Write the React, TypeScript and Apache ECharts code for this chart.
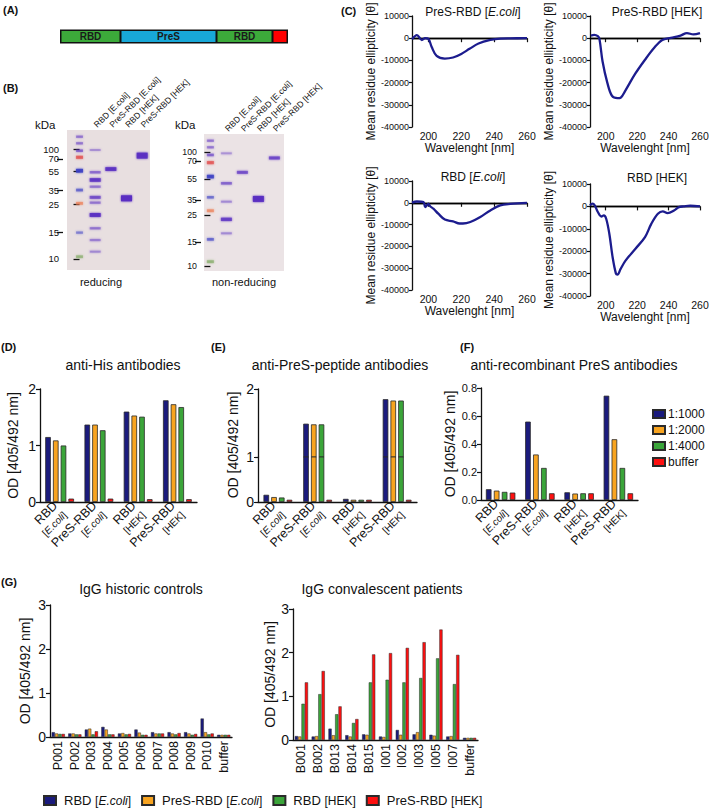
import React, { useEffect, useRef } from 'react';
import * as echarts from 'echarts';

// ---------------- DATA ----------------
// Panel B (SDS-PAGE): lanes, marker positions (migration, % of gel height) and bands [lane, migration, intensity, dye]
const gelLanes = ['', 'RBD [E.coli]', 'PreS-RBD [E.coli]', 'RBD [HEK]', 'PreS-RBD [HEK]'];
const markerKDa = [100, 70, 55, 35, 25, 15, 10];
const reducingMarkerPos = [13.6, 20.7, 29.3, 42.9, 52.9, 72.9, 92.1];
const nonReducingMarkerPos = [13.1, 19.7, 32.8, 48.2, 59.1, 78.8, 96.4];
const reducingBands: [number, number, number, string][] = [
  [0, 4.8, 0.3, 'p'], [0, 9.5, 0.3, 'p'], [0, 14.8, 0.4, 'p'], [0, 19.5, 0.6, 'r'], [0, 29.1, 0.85, 'b'],
  [0, 42.9, 0.45, 'b'], [0, 52.4, 0.5, 'o'], [0, 73.3, 0.3, 'b'], [0, 90.5, 0.45, 'g'],
  [1, 14.3, 0.15, 'p'], [1, 30.2, 0.35, 'p'], [1, 35.7, 0.8, 'p'], [1, 40.5, 0.3, 'p'], [1, 48.1, 0.55, 'p'],
  [1, 51.9, 0.3, 'p'], [1, 60.7, 0.9, 'p'], [1, 70.2, 0.3, 'p'], [1, 78.6, 0.25, 'p'], [1, 86.9, 0.2, 'p'],
  [2, 27.9, 0.85, 'p'],
  [3, 48.8, 1, 'p'],
  [4, 18.3, 0.95, 'p'],
];
const nonReducingBands: [number, number, number, string][] = [
  [0, 4.9, 0.3, 'p'], [0, 9.7, 0.3, 'p'], [0, 15.3, 0.4, 'p'], [0, 20.9, 0.6, 'r'], [0, 31.1, 0.8, 'b'],
  [0, 46.2, 0.4, 'b'], [0, 56.0, 0.5, 'o'], [0, 76.9, 0.45, 'b'], [0, 93.2, 0.5, 'g'],
  [1, 14.1, 0.15, 'p'], [1, 36.0, 0.4, 'p'], [1, 49.4, 0.2, 'p'], [1, 62.3, 0.7, 'p'], [1, 72.5, 0.2, 'p'],
  [2, 28.0, 0.55, 'p'],
  [3, 47.4, 0.95, 'p'],
  [4, 17.5, 0.6, 'p'],
];

// Panel C: CD spectra [wavelength nm, mean residue ellipticity]
const cdPresEcoli: [number, number][] = [[190, -500], [193, 1400], [196, -800], [198, 0], [200, -300], [202, -4000], [205, -8000], [210, -9200], [215, -8700], [220, -7100], [225, -4800], [230.5, -2400], [237.7, -800], [243.7, -150], [250, -50], [260, 0]];
const cdPresHek: [number, number][] = [[190.6, 1200], [192.7, 1500], [195, 900], [196, -300], [198, -10500], [201, -20000], [204, -26000], [207.5, -27000], [209.5, -26800], [212.6, -23500], [218.8, -16000], [225, -9700], [231, -4200], [236, -800], [241.4, 150], [247.6, 1200], [251.7, 2300], [255.8, 1700], [260, 2300]];
const cdRbdEcoli: [number, number][] = [[190, 100], [193, 600], [197, 300], [198, -2000], [199, -1200], [200, -500], [201.2, -1700], [203, -2700], [206, -5000], [210, -7700], [215, -8500], [219, -9500], [221, -9500], [225.5, -8800], [231.6, -6500], [237.7, -3500], [243.7, -1200], [249.8, -500], [260, 0]];
const cdRbdHek: [number, number][] = [[190, 450], [191.6, 1200], [193, 450], [195, -2500], [197.2, -4500], [198.8, -4000], [200.3, -5500], [202.3, -12200], [204.4, -22700], [206.5, -30000], [207.5, -30400], [209.5, -27900], [212.6, -24200], [218.8, -19000], [225, -13700], [229, -7800], [233.2, -3300], [236.3, -2200], [239.4, -3000], [243.5, -1800], [246.6, -300], [249.7, 0], [253.8, 300], [260, 0]];

// Panels D-F
const antigens = ['RBD [E.coli]', 'PreS-RBD [E.coli]', 'RBD [HEK]', 'PreS-RBD [HEK]'];
const dilutions = ['1:1000', '1:2000', '1:4000', 'buffer'];
const his1000 = [1.15, 1.37, 1.60, 1.80];
const his2000 = [1.09, 1.37, 1.53, 1.73];
const his4000 = [1.00, 1.27, 1.51, 1.68];
const hisBuffer = [0.06, 0.06, 0.05, 0.05];
const pep1000 = [0.16, 1.49, 0.07, 1.85];
const pep2000 = [0.11, 1.48, 0.05, 1.83];
const pep4000 = [0.10, 1.48, 0.05, 1.83];
const pepBuffer = [0.05, 0.05, 0.05, 0.05];
const rec1000 = [0.077, 0.56, 0.055, 0.745];
const rec2000 = [0.067, 0.325, 0.046, 0.434];
const rec4000 = [0.058, 0.229, 0.048, 0.229];
const recBuffer = [0.053, 0.048, 0.048, 0.048];

// Panel G
const historic = ['P001', 'P002', 'P003', 'P004', 'P005', 'P006', 'P007', 'P008', 'P009', 'P010', 'buffer'];
const convalescent = ['B001', 'B002', 'B013', 'B014', 'B015', 'I001', 'I002', 'I003', 'I005', 'I007', 'buffer'];
const gSeriesNames = ['RBD [E.coli]', 'PreS-RBD [E.coli]', 'RBD [HEK]', 'PreS-RBD [HEK]'];
const histRbdEcoli = [0.11, 0.08, 0.17, 0.23, 0.08, 0.17, 0.11, 0.11, 0.11, 0.42, 0.05];
const histPresEcoli = [0.08, 0.08, 0.19, 0.17, 0.09, 0.10, 0.08, 0.08, 0.08, 0.11, 0.05];
const histRbdHek = [0.07, 0.06, 0.06, 0.06, 0.06, 0.05, 0.08, 0.06, 0.05, 0.06, 0.05];
const histPresHek = [0.07, 0.06, 0.13, 0.06, 0.07, 0.05, 0.08, 0.09, 0.07, 0.08, 0.05];
const convRbdEcoli = [0.09, 0.08, 0.26, 0.11, 0.13, 0.08, 0.23, 0.13, 0.12, 0.08, 0.05];
const convPresEcoli = [0.08, 0.09, 0.11, 0.08, 0.12, 0.07, 0.12, 0.18, 0.10, 0.09, 0.05];
const convRbdHek = [0.83, 1.05, 0.59, 0.39, 1.32, 1.38, 1.32, 1.42, 1.87, 1.28, 0.05];
const convPresHek = [1.32, 1.58, 0.77, 0.48, 1.96, 1.99, 2.11, 2.24, 2.53, 1.95, 0.05];

// ---------------- STYLE ----------------
const SANS = '"Liberation Sans", Arial, Helvetica, sans-serif';
const INK = '#111';
const NAVY = '#1b1b7d';
const ORANGE = '#f8a420';
const GREEN = '#3ba53a';
const RED = '#fe1010';
const barColors = [NAVY, ORANGE, GREEN, RED];
const CD_LINE = '#1c1c8e';

const dyeColors: Record<string, string> = {
  p: '#5a2fc2', r: '#e24848', b: '#3b3fc4', o: '#ec7a50', g: '#7fa860',
};

const catRich = {
  a: { fontSize: 12.5, fontFamily: SANS, color: INK, lineHeight: 15 },
  b: { fontSize: 10, fontFamily: SANS, color: INK, lineHeight: 12 },
  i: { fontSize: 10, fontFamily: SANS, fontStyle: 'italic', color: INK, lineHeight: 12 },
};
function hostRich(host: string) {
  return host === 'E.coli' ? '{b|[}{i|E.coli}{b|]}' : '{b|[' + host + ']}';
}
function catFormatter(name: string) {
  const k = name.indexOf(' [');
  return '{a|' + name.slice(0, k) + '}\n' + hostRich(name.slice(k + 2, -1));
}
function legendFormatter(name: string) {
  const k = name.indexOf(' [');
  const host = name.slice(k + 2, -1);
  return name.slice(0, k + 1) + (host === 'E.coli' ? '{n|[}{i|E.coli}{n|]}' : '{n|[' + host + ']}');
}

const axLine = { lineStyle: { color: INK, width: 1.3 } };

function gelXAxis(gi: number, xmin: number, xmax: number) {
  return {
    type: 'value', gridIndex: gi, min: xmin, max: xmax, position: 'top',
    axisLine: { show: false }, axisTick: { show: false }, splitLine: { show: false },
    axisLabel: {
      customValues: [1, 2, 3, 4], rotate: 45, margin: 4, fontSize: 8.5, fontFamily: SANS, color: INK,
      showMinLabel: true, showMaxLabel: true,
      formatter: (v: number) => gelLanes[Math.round(v)] || '',
    },
  };
}
// marker labels are split over two axes (alternating) so that close labels are not dropped
function gelYAxis(gi: number, markerPos: number[], offset: number, parity: number, fs: number) {
  const vals = markerPos.filter((_, i) => i % 2 === parity);
  return {
    type: 'value', gridIndex: gi, min: 0, max: 100, inverse: true, offset, position: 'left',
    axisLine: { show: false }, splitLine: { show: false },
    axisTick: { show: true, customValues: vals, length: 6, lineStyle: { color: INK, width: 1.3 } },
    axisLabel: {
      customValues: vals, margin: 4, fontSize: fs, lineHeight: fs - 0.5, fontFamily: SANS, color: INK,
      showMinLabel: true, showMaxLabel: true,
      formatter: (v: number) => {
        const idx = markerPos.findIndex((m) => Math.abs(m - v) < 0.01);
        return idx >= 0 ? String(markerKDa[idx]) : '';
      },
    },
  };
}

function bandSeries(bands: [number, number, number, string][], gi: number) {
  return {
    type: 'scatter', xAxisIndex: gi, yAxisIndex: gi, silent: true, z: 3,
    data: bands.map(([lane, mig, inten, dye]) => ({
      value: [lane, mig],
      symbol: 'rect',
      symbolSize: [lane === 0 ? 7 : 11, inten >= 0.95 ? 6 : 1.6 + inten * 2.6],
      itemStyle: { color: dyeColors[dye], opacity: 0.2 + 0.8 * inten, shadowBlur: 2, shadowColor: dyeColors[dye] },
    })),
  };
}

function cdAxes(gi: number) {
  return {
    x: {
      type: 'value', gridIndex: gi, min: 190, max: 260,
      axisLine: axLine, splitLine: { show: false },
      axisTick: { customValues: [200, 220, 240, 260], length: 4, lineStyle: { color: INK, width: 1.2 } },
      axisLabel: {
        customValues: [200, 220, 240, 260], margin: 3, fontSize: 10.5, fontFamily: SANS, color: INK,
        showMinLabel: true, showMaxLabel: true,
      },
      name: 'Wavelenght [nm]', nameLocation: 'middle', nameGap: 14,
      nameTextStyle: { fontSize: 12, fontFamily: SANS, color: INK },
    },
    y: {
      type: 'value', gridIndex: gi, min: -40000, max: 10000, interval: 10000,
      axisLine: axLine, splitLine: { show: false },
      axisTick: { length: 3, lineStyle: { color: INK, width: 1.2 } },
      axisLabel: { margin: 3, fontSize: 9, fontFamily: SANS, color: INK, formatter: (v: number) => String(v) },
      name: 'Mean residue ellipticity [\u03b8]', nameLocation: 'middle', nameGap: 28,
      nameTextStyle: { fontSize: 12, fontFamily: SANS, color: INK },
    },
  };
}

function cdSeries(data: [number, number][], gi: number) {
  return {
    type: 'line', xAxisIndex: gi, yAxisIndex: gi, data, showSymbol: false, smooth: 0.35, silent: true,
    lineStyle: { color: CD_LINE, width: 2.3 }, z: 3,
    markLine: {
      silent: true, symbol: 'none', label: { show: false }, z: 2,
      lineStyle: { color: '#000', type: 'solid', width: 1.3 },
      data: [{ yAxis: 0 }],
    },
  };
}

function catXAxis(gi: number, cats: string[], extra: any = {}) {
  return {
    type: 'category', gridIndex: gi, data: cats,
    axisLine: axLine, splitLine: { show: false },
    axisTick: { alignWithLabel: true, length: 4, lineStyle: { color: INK, width: 1.2 } },
    axisLabel: { interval: 0, rotate: 45, margin: 6, formatter: catFormatter, rich: catRich, color: INK },
    ...extra,
  };
}

function valYAxis(gi: number, min: number, max: number, interval: number, extra: any = {}) {
  return {
    type: 'value', gridIndex: gi, min, max, interval,
    axisLine: { show: true, ...axLine }, splitLine: { show: false },
    axisTick: { show: true, length: 4, lineStyle: { color: INK, width: 1.2 } },
    axisLabel: { margin: 4, fontSize: 14, fontFamily: SANS, color: INK },
    ...extra,
  };
}

const odName = {
  name: 'OD [405/492 nm]', nameLocation: 'middle',
  nameTextStyle: { fontSize: 14, fontFamily: SANS, color: INK },
};

function barSeries(name: string, data: number[], gi: number, ci: number, width: number, gap: string, bw = 0.8) {
  return {
    type: 'bar', name, data, xAxisIndex: gi, yAxisIndex: gi, barWidth: width, barGap: gap, silent: true,
    itemStyle: { color: barColors[ci], borderColor: '#2a2a2a', borderWidth: bw },
  };
}

function txt(text: string, x: number, y: number, fontSize: number, opts: any = {}) {
  return {
    type: 'text', x, y, silent: true,
    style: { text, fontSize, fontFamily: SANS, fill: INK, align: 'left', verticalAlign: 'middle', ...opts },
  };
}

const titleRich = {
  i: { fontStyle: 'italic', fontSize: 12, fontFamily: SANS, fill: INK },
};

function buildOption() {
  const c1 = cdAxes(2), c2 = cdAxes(3), c3 = cdAxes(4), c4 = cdAxes(5);

  const grids = [
    { left: 67, top: 130, width: 83, height: 140, show: true, backgroundColor: '#e8dfe0', borderWidth: 0 },
    { left: 204, top: 134, width: 80, height: 137, show: true, backgroundColor: '#ebe3e5', borderWidth: 0 },
    { left: 412, top: 16, width: 115, height: 111 },
    { left: 590, top: 16, width: 110, height: 111 },
    { left: 412, top: 181, width: 115, height: 109 },
    { left: 590, top: 184, width: 110, height: 112 },
    { left: 40, top: 389, width: 157, height: 113 },
    { left: 258, top: 389, width: 159, height: 68 },
    { left: 258, top: 457, width: 159, height: 45 },
    { left: 481, top: 388, width: 157, height: 112 },
    { left: 50, top: 605, width: 182, height: 132 },
    { left: 293, top: 609, width: 185, height: 131 },
  ].map((g) => ({ containLabel: false, outerBoundsMode: 'none', ...g }));

  const xAxis = [
    gelXAxis(0, -0.8, 4.5), gelXAxis(1, -0.4, 4.6), c1.x, c2.x, c3.x, c4.x,
    catXAxis(6, antigens),
    catXAxis(7, antigens, { axisLine: { show: false }, axisTick: { show: false }, axisLabel: { show: false } }),
    catXAxis(8, antigens),
    catXAxis(9, antigens),
    catXAxis(10, historic, { axisLabel: { interval: 0, rotate: 90, margin: 4, fontSize: 12.5, fontFamily: SANS, color: INK } }),
    catXAxis(11, convalescent, { axisLabel: { interval: 0, rotate: 90, margin: 4, fontSize: 12.5, fontFamily: SANS, color: INK } }),
  ];
  const yAxis = [
    gelYAxis(0, reducingMarkerPos, 4, 0, 9.5), gelYAxis(1, nonReducingMarkerPos, 3, 0, 8.8),
    c1.y, c2.y, c3.y, c4.y,
    valYAxis(6, 0, 2, 1, { ...odName, nameGap: 20 }),
    valYAxis(7, 1, 2, 1, { axisLabel: { margin: 4, fontSize: 14, fontFamily: SANS, color: INK, showMinLabel: false } }),
    valYAxis(8, 0, 1, 1),
    valYAxis(9, 0, 0.8, 0.2, {
      ...odName, nameGap: 24,
      axisLabel: { margin: 4, fontSize: 11, fontFamily: SANS, color: INK, formatter: (v: number) => v.toFixed(1) },
    }),
    valYAxis(10, 0, 3, 1, { ...odName, nameGap: 18 }),
    valYAxis(11, 0, 3, 1, { ...odName, nameGap: 16 }),
    gelYAxis(0, reducingMarkerPos, 4, 1, 9.5), gelYAxis(1, nonReducingMarkerPos, 3, 1, 8.8),
  ];

  const his = [his1000, his2000, his4000, hisBuffer];
  const pep = [pep1000, pep2000, pep4000, pepBuffer];
  const rec = [rec1000, rec2000, rec4000, recBuffer];
  const hist = [histRbdEcoli, histPresEcoli, histRbdHek, histPresHek];
  const conv = [convRbdEcoli, convPresEcoli, convRbdHek, convPresHek];

  const series: any[] = [
    bandSeries(reducingBands, 0),
    bandSeries(nonReducingBands, 1),
    cdSeries(cdPresEcoli, 2),
    cdSeries(cdPresHek, 3),
    cdSeries(cdRbdEcoli, 4),
    cdSeries(cdRbdHek, 5),
  ];
  dilutions.forEach((d, i) => series.push(barSeries(d, his[i], 6, i, 5.6, '38%')));
  dilutions.forEach((d, i) => series.push(barSeries(d, pep[i], 7, i, 5.6, '38%')));
  dilutions.forEach((d, i) => series.push(barSeries(d, pep[i], 8, i, 5.6, '38%')));
  dilutions.forEach((d, i) => series.push(barSeries(d, rec[i], 9, i, 5.6, '42%')));
  gSeriesNames.forEach((n, i) => series.push(barSeries(n, hist[i], 10, i, 3.2, '4%', 0.5)));
  gSeriesNames.forEach((n, i) => series.push(barSeries(n, conv[i], 11, i, 3.2, '4%', 0.5)));

  const bold = { fontWeight: 'bold', fontSize: 11 };
  const graphic: any[] = [
    // panel letters
    txt('(A)', 3, 10, 11, bold),
    txt('(B)', 3, 88, 11, bold),
    txt('(C)', 341, 11, 11, bold),
    txt('(D)', 1, 347, 11, bold),
    txt('(E)', 211, 347, 11, bold),
    txt('(F)', 460, 347, 11, bold),
    txt('(G)', 1, 582, 11, bold),
    // panel A construct
    { type: 'rect', shape: { x: 60, y: 29.5, width: 228, height: 14 }, style: { fill: '#111' }, silent: true },
    { type: 'rect', shape: { x: 61.5, y: 31, width: 58, height: 11 }, style: { fill: '#3caa3a' }, silent: true },
    { type: 'rect', shape: { x: 121.5, y: 31, width: 94, height: 11 }, style: { fill: '#18a8d8' }, silent: true },
    { type: 'rect', shape: { x: 217.5, y: 31, width: 54, height: 11 }, style: { fill: '#3caa3a' }, silent: true },
    { type: 'rect', shape: { x: 273.5, y: 31, width: 13, height: 11 }, style: { fill: '#ff0000' }, silent: true },
    txt('RBD', 90.5, 36.8, 10, { align: 'center', fontWeight: 'bold', fill: '#1a1a1a' }),
    txt('PreS', 168.5, 36.8, 10, { align: 'center', fontWeight: 'bold', fill: '#1a1a1a' }),
    txt('RBD', 244.5, 36.8, 10, { align: 'center', fontWeight: 'bold', fill: '#1a1a1a' }),
    // panel B texts
    txt('kDa', 35, 125, 11.5),
    txt('kDa', 175, 125, 11.5),
    txt('reducing', 101, 282, 11, { align: 'center' }),
    txt('non-reducing', 244, 282, 11, { align: 'center' }),
    // panel C titles
    txt('PreS-RBD [{i|E.coli}]', 473, 12, 12, { align: 'center', rich: titleRich }),
    txt('PreS-RBD [HEK]', 657, 12, 12, { align: 'center' }),
    txt('RBD [{i|E.coli}]', 473, 177, 12, { align: 'center', rich: titleRich }),
    txt('RBD [HEK]', 657, 178, 12, { align: 'center' }),
    // panel D-G titles
    txt('anti-His antibodies', 123, 365, 14, { align: 'center' }),
    txt('anti-PreS-peptide antibodies', 340, 365, 14, { align: 'center' }),
    txt('anti-recombinant PreS antibodies', 574, 365, 14, { align: 'center' }),
    txt('IgG historic controls', 141, 589, 14, { align: 'center' }),
    txt('IgG convalescent patients', 382, 589, 14, { align: 'center' }),
    // E y-axis name (axis is split in two segments)
    { ...txt('OD [405/492 nm]', 233, 445, 14, { align: 'center' }), rotation: Math.PI / 2 },
  ];

  return {
    animation: false,
    backgroundColor: '#fff',
    textStyle: { fontFamily: SANS, color: INK },
    grid: grids,
    xAxis,
    yAxis,
    series,
    graphic,
    legend: [
      {
        data: dilutions, orient: 'vertical', left: 652, top: 408, padding: 0,
        itemWidth: 12, itemHeight: 8, itemGap: 4, selectedMode: false, icon: 'rect',
        textStyle: { fontSize: 12, fontFamily: SANS, color: INK, padding: [0, 0, 0, -2] },
      },
      {
        data: gSeriesNames, orient: 'horizontal', left: 43, top: 794, padding: 0,
        itemWidth: 12, itemHeight: 9, itemGap: 10, selectedMode: false, icon: 'rect',
        formatter: legendFormatter,
        textStyle: {
          fontSize: 13, fontFamily: SANS, color: INK, padding: [0, 0, 0, 3],
          rich: {
            n: { fontSize: 12, fontFamily: SANS, color: INK },
            i: { fontSize: 12, fontFamily: SANS, fontStyle: 'italic', color: INK },
          },
        },
      },
    ],
  };
}

export default function App() {
  const ref = useRef<HTMLDivElement>(null);
  useEffect(() => {
    if (!ref.current) return;
    const chart = echarts.init(ref.current, null, { renderer: 'svg', width: 709, height: 809 });
    chart.setOption(buildOption() as any);
    return () => chart.dispose();
  }, []);
  return (
    <div
      ref={ref}
      style={{ position: 'absolute', left: 0, top: 0, width: 709, height: 809, background: '#fff' }}
    />
  );
}
